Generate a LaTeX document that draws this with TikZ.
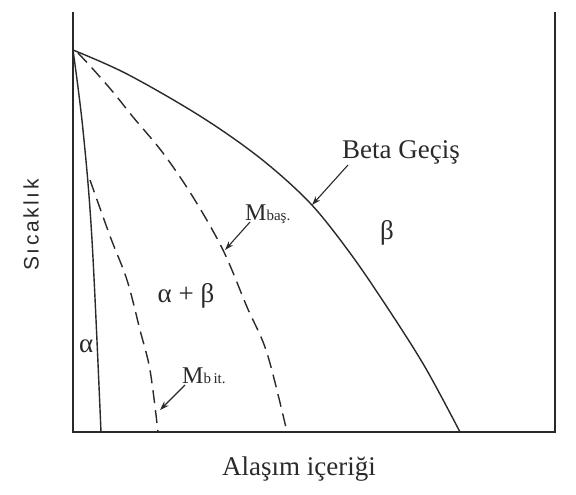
\documentclass[tikz,border=0pt]{standalone}
\usepackage{fontspec}
\setmainfont{Liberation Serif}
\setsansfont{Liberation Sans}
\usetikzlibrary{arrows.meta}
\definecolor{ink}{HTML}{2A2A2A}
\begin{document}
\begin{tikzpicture}[x=1pt,y=-1pt,
  axis/.style={line width=1.8pt, draw=ink},
  curve/.style={line width=1.4pt, draw=ink},
  dcurve/.style={curve, dash pattern=on 13pt off 7pt},
  lbl/.style={text=ink, inner sep=0pt, font=\fontsize{27}{30}\selectfont},
  pointer/.style={line width=1.1pt, draw=ink, -{Stealth[length=9pt,width=6pt]}}]
\useasboundingbox (0,0) rectangle (576,495);
\fill[white] (0,0) rectangle (576,495);
% axes frame
\coordinate (ytop) at (73,12);
\coordinate (orig) at (73,432);
\coordinate (xend) at (555,432);
\coordinate (rtop) at (555,12);
\draw[axis] (ytop) -- (orig) -- (xend) -- (rtop);
% curves
\draw[curve] plot[smooth, tension=0.55] coordinates {(73,50) (127,74) (200,116) (260,158) (310,203) (350,253) (387,307) (425,367) (460,432)};
\draw[curve] plot[smooth, tension=0.6] coordinates {(73,50) (83,130) (92,240) (101,432)};
\draw[dcurve] plot[smooth, tension=0.55] coordinates {(78,53) (92,68) (113,92) (133,117) (163,153) (193,197) (223,250) (247,307) (267,353) (287,432)};
\draw[dcurve] plot[smooth, tension=0.55] coordinates {(90,180) (110,236) (127,280) (140,330) (150,370) (158,432)};
% labels
\node[lbl, anchor=base west] (beta) at (342,158) {Beta Geçiş};
\node[lbl, anchor=base west] (mbas) at (245,220) {\fontsize{24}{26}\selectfont M\fontsize{15}{18}\selectfont baş.};
\node[lbl, anchor=base west] (mbit) at (182,383) {\fontsize{24}{26}\selectfont M\fontsize{15}{18}\selectfont b\,it.};
\node[lbl] (betaph) at (387,233) {β};
\node[lbl, anchor=base] (twoph) at (186,302) {α + β};
\node[lbl, anchor=base west] (alphph) at (79,352) {α};
\node[lbl, anchor=base] (xlab) at (299,475) {Alaşım içeriği};
\node[text=ink, inner sep=0pt, rotate=90, font=\sffamily\fontsize{21}{24}\selectfont\addfontfeature{LetterSpace=12}] (ylab) at (31,225) {Sıcaklık};
% pointers
\coordinate (betatip) at (312,205);
\coordinate (mbastip) at (225,250);
\coordinate (mbittip) at (160,410);
\draw[pointer] ([shift={(6,7)}]beta.base west) -- (betatip);
\draw[pointer] ([shift={(5,2)}]mbas.base west) -- (mbastip);
\draw[pointer] ([shift={(3,2)}]mbit.base west) -- (mbittip);
\end{tikzpicture}
\end{document}
